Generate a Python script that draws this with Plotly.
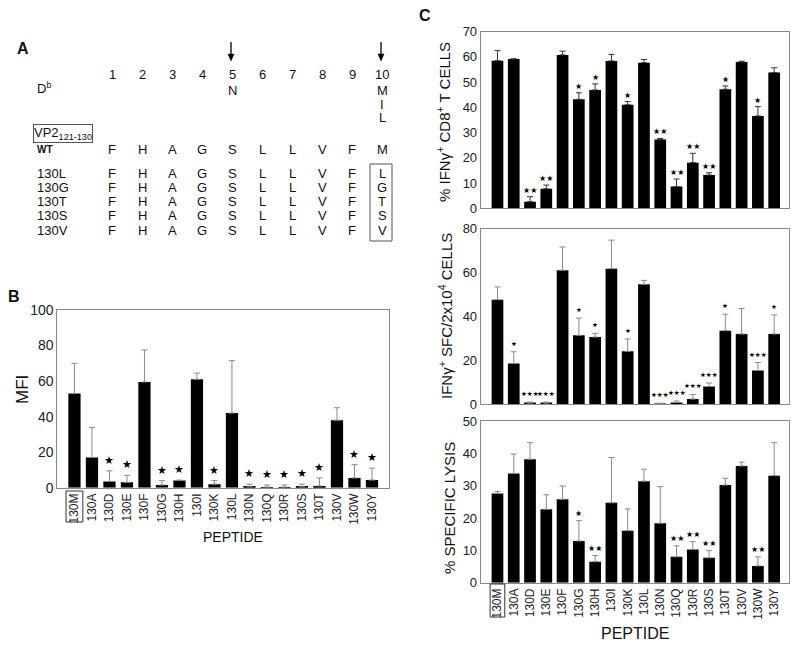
import plotly.graph_objects as go

# ---------------- data ----------------
peptides = ["130M", "130A", "130D", "130E", "130F", "130G", "130H", "130I", "130K",
            "130L", "130N", "130Q", "130R", "130S", "130T", "130V", "130W", "130Y"]

mfi = [53, 17, 3.5, 3, 59.5, 1.5, 4, 61, 2, 42, 0.5, 0.3, 0.3, 0.5, 1, 38, 5.5, 4.3]
mfi_err = [17, 17, 6, 4, 18, 2.5, 0.3, 3.5, 2, 29.5, 1.5, 1.2, 1.2, 1.5, 4.5, 7, 7.5, 6.7]
mfi_sig = ["", "", "*", "*", "", "*", "*", "", "*", "", "*", "*", "*", "*", "*", "", "*", "*"]

ifn_cd8 = [58.5, 59.2, 2.6, 7.7, 60.8, 43.2, 46.9, 58.4, 41.0, 57.7, 27.3, 8.6, 18.1, 13.2, 47.2, 58.0, 36.6, 53.8]
ifn_cd8_err = [4.0, 0, 2.0, 1.5, 1.5, 2.6, 2.4, 2.6, 1.3, 1.3, 0.4, 3.0, 3.7, 0.9, 1.3, 0.3, 3.7, 1.9]
ifn_cd8_sig = ["", "", "**", "**", "", "*", "*", "", "*", "", "**", "**", "**", "**", "*", "", "*", ""]

sfc = [47.6, 18.6, 0.5, 0.5, 61.0, 31.4, 30.6, 61.7, 24.1, 54.6, 0.1, 0.8, 2.4, 8.1, 33.5, 32.0, 15.4, 32.0]
sfc_err = [5.8, 5.3, 0.5, 0.5, 10.6, 7.8, 1.7, 13.0, 5.6, 1.8, 0.4, 0.7, 2.1, 1.6, 7.5, 11.6, 3.6, 8.7]
sfc_sig = ["", "*", "***", "***", "", "*", "*", "", "*", "", "***", "***", "***", "***", "*", "", "***", "*"]

lysis = [27.6, 33.8, 38.2, 22.7, 25.8, 12.9, 6.5, 24.7, 16.1, 31.4, 18.4, 8.0, 10.3, 7.7, 30.2, 36.1, 5.2, 33.1]
lysis_err = [0.6, 6.0, 5.1, 4.5, 4.1, 6.3, 1.9, 14.0, 6.7, 3.7, 11.3, 3.4, 2.4, 2.2, 2.1, 1.2, 2.8, 10.2]
lysis_sig = ["", "", "", "", "", "*", "**", "", "", "", "", "**", "**", "**", "", "", "**", ""]

# panel A sequence table
positions = [str(i) for i in range(1, 11)]
wt_seq = ["F", "H", "A", "G", "S", "L", "L", "V", "F", "M"]
anchor5 = ["N"]
anchor10 = ["M", "I", "L"]
variants = ["130L", "130G", "130T", "130S", "130V"]
variant_res = ["L", "G", "T", "S", "V"]

W, H = 800, 645
OFF = 8  # page body margin offset
FONT = "Liberation Sans, Arial, sans-serif"


def fx(x):
    return (x - OFF) / W


def fy(y):
    return 1 - (y - OFF) / H


fig = go.Figure()
ann = []
shapes = []


def text(t, x, y, size=14, **kw):
    d = dict(text=t, x=fx(x), y=fy(y), xref="paper", yref="paper", showarrow=False,
             xanchor="center", yanchor="middle",
             font=dict(size=size, color="#111", family=FONT))
    d.update(kw)
    ann.append(d)


xs = list(range(len(peptides)))


def add_bars(vals, errs, xa, ya, ecolor, width):
    fig.add_trace(go.Bar(
        x=xs, y=vals, xaxis=xa, yaxis=ya, width=width,
        marker=dict(color="black", line=dict(width=0)),
        error_y=dict(type="data", symmetric=False, array=errs,
                     arrayminus=[0] * len(errs), color=ecolor, thickness=1, width=3),
        showlegend=False, hoverinfo="skip"))


def add_stars(vals, errs, sigs, xa, ya, size, glyph, yshift):
    for i, (v, e, s) in enumerate(zip(vals, errs, sigs)):
        if s:
            ann.append(dict(text=glyph * len(s), x=i, y=v + e, xref=xa, yref=ya,
                            showarrow=False, xanchor="center", yanchor="bottom", yshift=yshift,
                            font=dict(size=size, color="black", family="DejaVu Sans")))


# ---------------- panel B ----------------
add_bars(mfi, mfi_err, "x", "y", "#8a8a8a", 0.70)
add_stars(mfi, mfi_err, mfi_sig, "x", "y", 11, "\u2605", 2)

# ---------------- panel C ----------------
add_bars(ifn_cd8, ifn_cd8_err, "x2", "y2", "#333", 0.72)
add_stars(ifn_cd8, ifn_cd8_err, ifn_cd8_sig, "x2", "y2", 8, "\u2605", 0)
add_bars(sfc, sfc_err, "x3", "y3", "#8a8a8a", 0.72)
add_stars(sfc, sfc_err, sfc_sig, "x3", "y3", 6.5, "\u2605", 2)
add_bars(lysis, lysis_err, "x4", "y4", "#8a8a8a", 0.72)
add_stars(lysis, lysis_err, lysis_sig, "x4", "y4", 8, "\u2605", 1)

axis_common = dict(showline=True, mirror=True, linecolor="#8a8a8a", linewidth=1,
                   showgrid=False, zeroline=False, ticks="", automargin=False,
                   tickfont=dict(size=13, color="#222", family=FONT))

xB = dict(axis_common, domain=[fx(57.3), fx(389.3)], range=[-0.98, 17.99],
          tickvals=xs, ticktext=peptides, tickangle=-90, anchor="y",
          tickfont=dict(size=12, color="#222", family=FONT))
yB = dict(axis_common, domain=[fy(487.7), fy(310)], range=[0, 100],
          tickvals=[0, 20, 40, 60, 80, 100], anchor="x",
          tickfont=dict(size=14, color="#222", family=FONT))

cx = [fx(480.7), fx(788.5)]
crange = [-1.03, 17.88]
x2 = dict(axis_common, domain=cx, range=crange, showticklabels=False, anchor="y2")
y2 = dict(axis_common, domain=[fy(208.3), fy(31.7)], range=[0, 70],
          tickvals=list(range(0, 71, 10)), anchor="x2")
x3 = dict(axis_common, domain=cx, range=crange, showticklabels=False, anchor="y3")
y3 = dict(axis_common, domain=[fy(404.3), fy(228.5)], range=[0, 80],
          tickvals=[0, 20, 40, 60, 80], anchor="x3")
x4 = dict(axis_common, domain=cx, range=crange, tickvals=xs, ticktext=peptides,
          tickangle=-90, anchor="y4", tickfont=dict(size=12, color="#222", family=FONT))
y4 = dict(axis_common, domain=[fy(582.7), fy(421)], range=[0, 50],
          tickvals=list(range(0, 51, 10)), anchor="x4")

# axis titles
text("MFI", 22, 390, 17, textangle=-90)
text("PEPTIDE", 233, 537, 14)
text("% IFN\u03b3<sup>+</sup> CD8<sup>+</sup> T CELLS", 443, 122, 15, textangle=-90)
text("IFN\u03b3<sup>+</sup> SFC/2x10<sup>4</sup> CELLS", 445, 316, 15, textangle=-90)
text("% SPECIFIC LYSIS", 449, 508, 15, textangle=-90)
text("PEPTIDE", 635, 633, 16)

# boxes around 130M labels
shapes.append(dict(type="rect", xref="x", yref="paper", x0=-0.48, x1=0.48,
                   y0=fy(522), y1=fy(491), line=dict(color="#333", width=1)))
shapes.append(dict(type="rect", xref="x4", yref="paper", x0=-0.45, x1=0.45,
                   y0=fy(617), y1=fy(584), line=dict(color="#333", width=1)))

# panel letters
text("<b>A</b>", 23, 48, 16)
text("<b>B</b>", 14, 296, 16)
text("<b>C</b>", 425, 15, 16)

# ---------------- panel A ----------------
col_x0, col_dx = 112, 30
SEQ = 13
for i, p in enumerate(positions):
    text(p, col_x0 + i * col_dx, 75, SEQ)
for j, r in enumerate(anchor5):
    text(r, col_x0 + 4 * col_dx, 90 + 14 * j, SEQ)
for j, r in enumerate(anchor10):
    text(r, col_x0 + 9 * col_dx, 90 + 14 * j, SEQ)
# arrows above positions 5 and 10
for k in (4, 9):
    ax_ = col_x0 + k * col_dx - 1
    shapes.append(dict(type="line", xref="paper", yref="paper", x0=fx(ax_), x1=fx(ax_),
                       y0=fy(42), y1=fy(55), line=dict(color="black", width=1.3)))
    shapes.append(dict(type="path", xref="paper", yref="paper",
                       path=f"M {fx(ax_ - 3)} {fy(54)} L {fx(ax_ + 3)} {fy(54)} L {fx(ax_)} {fy(61)} Z",
                       fillcolor="black", line=dict(color="black", width=0.5)))
text("D<sup>b</sup>", 35, 88, SEQ, xanchor="left")
text("VP2<sub>121-130</sub>", 33, 133, SEQ, xanchor="left",
     bordercolor="#555", borderwidth=1, borderpad=0)
text("<b>WT</b>", 35, 149, 10, xanchor="left")
for i, r in enumerate(wt_seq):
    text(r, col_x0 + i * col_dx, 149, SEQ)
for k, (name, res) in enumerate(zip(variants, variant_res)):
    y = 173 + 14.3 * k
    text(name, 35, y, SEQ, xanchor="left")
    for i, r in enumerate(wt_seq[:-1]):
        text(r, col_x0 + i * col_dx, y, SEQ)
    text(res, col_x0 + 9 * col_dx, y, SEQ)
shapes.append(dict(type="rect", xref="paper", yref="paper", x0=fx(370), x1=fx(392),
                   y0=fy(241), y1=fy(164), line=dict(color="#555", width=1)))

fig.update_layout(
    width=W, height=H, margin=dict(l=0, r=0, t=0, b=0, autoexpand=False),
    paper_bgcolor="white", plot_bgcolor="white",
    font=dict(family=FONT, color="#111"),
    xaxis=xB, yaxis=yB, xaxis2=x2, yaxis2=y2, xaxis3=x3, yaxis3=y3, xaxis4=x4, yaxis4=y4,
    annotations=ann, shapes=shapes, showlegend=False, bargap=0.3,
)

fig.write_html("out.html")
